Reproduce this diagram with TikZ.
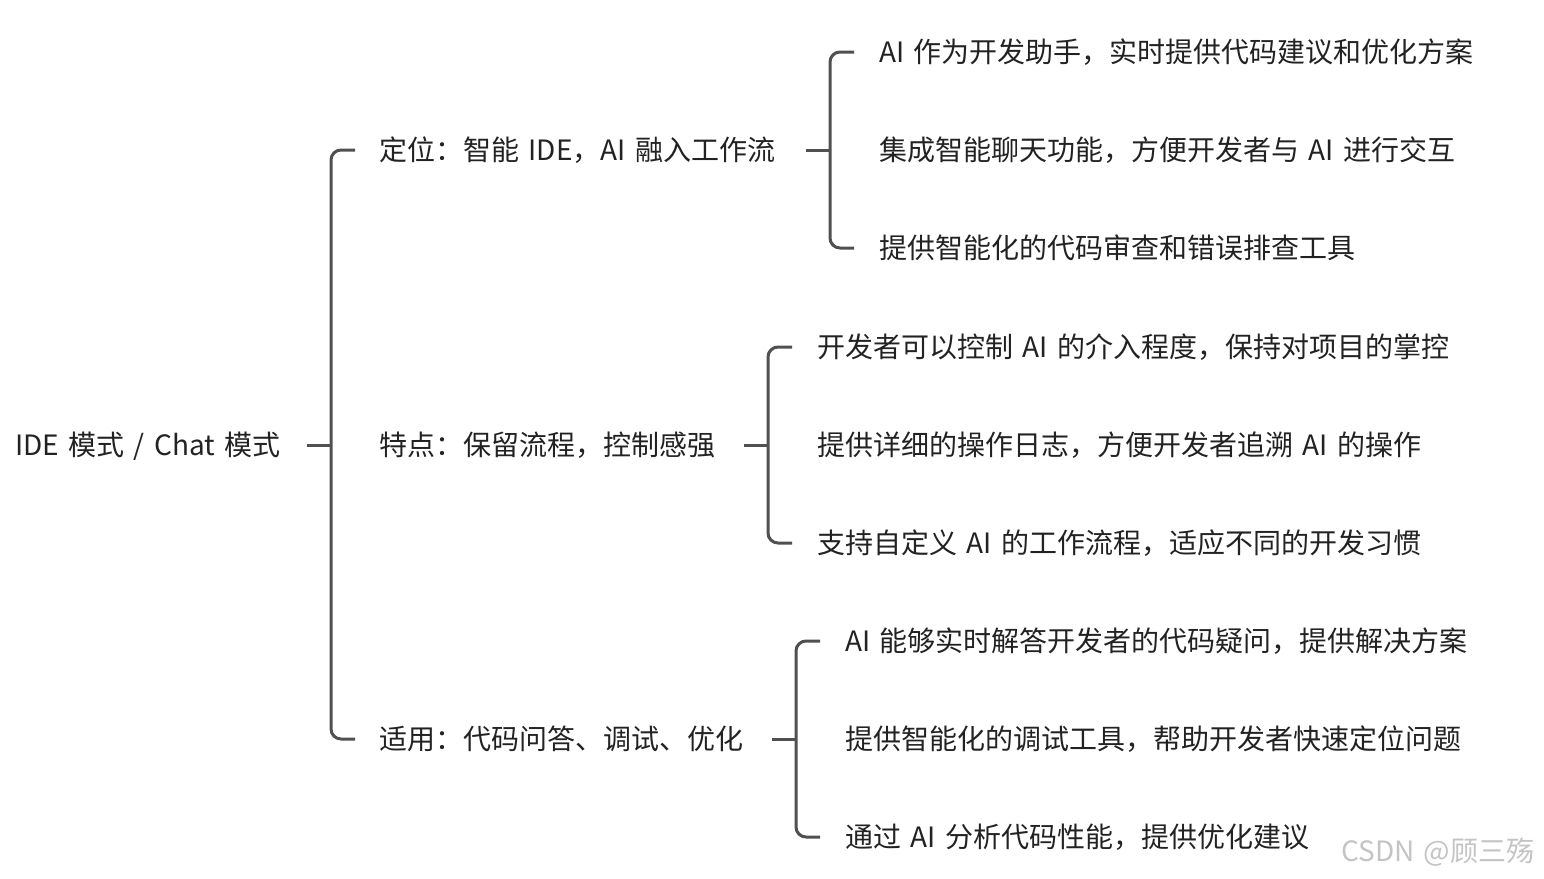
\documentclass[tikz,border=0pt]{standalone}
\usepackage{fontspec}
\setmainfont{Noto Sans CJK SC}[WordSpace=1.5]
\definecolor{txt}{HTML}{222222}
\definecolor{ln}{HTML}{505050}
\definecolor{wm}{HTML}{C4C4C4}
\begin{document}
\begin{tikzpicture}[x=1pt,y=-1pt,
  lbl/.style={anchor=base west,inner sep=0pt,text=txt,font=\fontsize{28}{34}\selectfont},
  conn/.style={draw=ln,line width=3pt,rounded corners=10pt},
  stem/.style={draw=ln,line width=3pt}]
\useasboundingbox (0,0) rectangle (1544,878);
\def\bo{10.6}
% root
\node[lbl] (root) at (15,445+\bo) {IDE 模式 / Chat 模式};
% level 1
\node[lbl] (p1) at (379,150+\bo) {定位：智能 IDE，AI 融入工作流};
\node[lbl] (p2) at (379,445+\bo) {特点：保留流程，控制感强};
\node[lbl] (p3) at (379,739+\bo) {适用：代码问答、调试、优化};
% level 2, group 1
\node[lbl] (a1) at (879,52+\bo) {AI 作为开发助手，实时提供代码建议和优化方案};
\node[lbl] (a2) at (879,150+\bo) {集成智能聊天功能，方便开发者与 AI 进行交互};
\node[lbl] (a3) at (879,248+\bo) {提供智能化的代码审查和错误排查工具};
% group 2
\node[lbl] (b1) at (817,347+\bo) {开发者可以控制 AI 的介入程度，保持对项目的掌控};
\node[lbl] (b2) at (817,445+\bo) {提供详细的操作日志，方便开发者追溯 AI 的操作};
\node[lbl] (b3) at (817,543+\bo) {支持自定义 AI 的工作流程，适应不同的开发习惯};
% group 3
\node[lbl] (c1) at (845,641+\bo) {AI 能够实时解答开发者的代码疑问，提供解决方案};
\node[lbl] (c2) at (845,739+\bo) {提供智能化的调试工具，帮助开发者快速定位问题};
\node[lbl] (c3) at (845,837+\bo) {通过 AI 分析代码性能，提供优化建议};
% root bracket
\draw[stem] ([xshift=-72pt,yshift=\bo pt]p2.base west) -- ([xshift=-48pt,yshift=\bo pt]p2.base west);
\draw[conn] ([xshift=-24pt,yshift=\bo pt]p1.base west) -- ([xshift=-48pt,yshift=\bo pt]p1.base west) -- ([xshift=-48pt,yshift=\bo pt]p3.base west) -- ([xshift=-24pt,yshift=\bo pt]p3.base west);
% group 1 bracket
\draw[stem] ([xshift=-73pt,yshift=\bo pt]a2.base west) -- ([xshift=-49pt,yshift=\bo pt]a2.base west);
\draw[conn] ([xshift=-25pt,yshift=\bo pt]a1.base west) -- ([xshift=-49pt,yshift=\bo pt]a1.base west) -- ([xshift=-49pt,yshift=\bo pt]a3.base west) -- ([xshift=-25pt,yshift=\bo pt]a3.base west);
% group 2 bracket
\draw[stem] ([xshift=-73pt,yshift=\bo pt]b2.base west) -- ([xshift=-49pt,yshift=\bo pt]b2.base west);
\draw[conn] ([xshift=-25pt,yshift=\bo pt]b1.base west) -- ([xshift=-49pt,yshift=\bo pt]b1.base west) -- ([xshift=-49pt,yshift=\bo pt]b3.base west) -- ([xshift=-25pt,yshift=\bo pt]b3.base west);
% group 3 bracket
\draw[stem] ([xshift=-73pt,yshift=\bo pt]c2.base west) -- ([xshift=-49pt,yshift=\bo pt]c2.base west);
\draw[conn] ([xshift=-25pt,yshift=\bo pt]c1.base west) -- ([xshift=-49pt,yshift=\bo pt]c1.base west) -- ([xshift=-49pt,yshift=\bo pt]c3.base west) -- ([xshift=-25pt,yshift=\bo pt]c3.base west);
% watermark
\node[anchor=base west,inner sep=0pt,text=wm,font=\fontsize{28}{32}\selectfont] (wm) at (1341,851+\bo) {CSDN @顾三殇};
\end{tikzpicture}
\end{document}
